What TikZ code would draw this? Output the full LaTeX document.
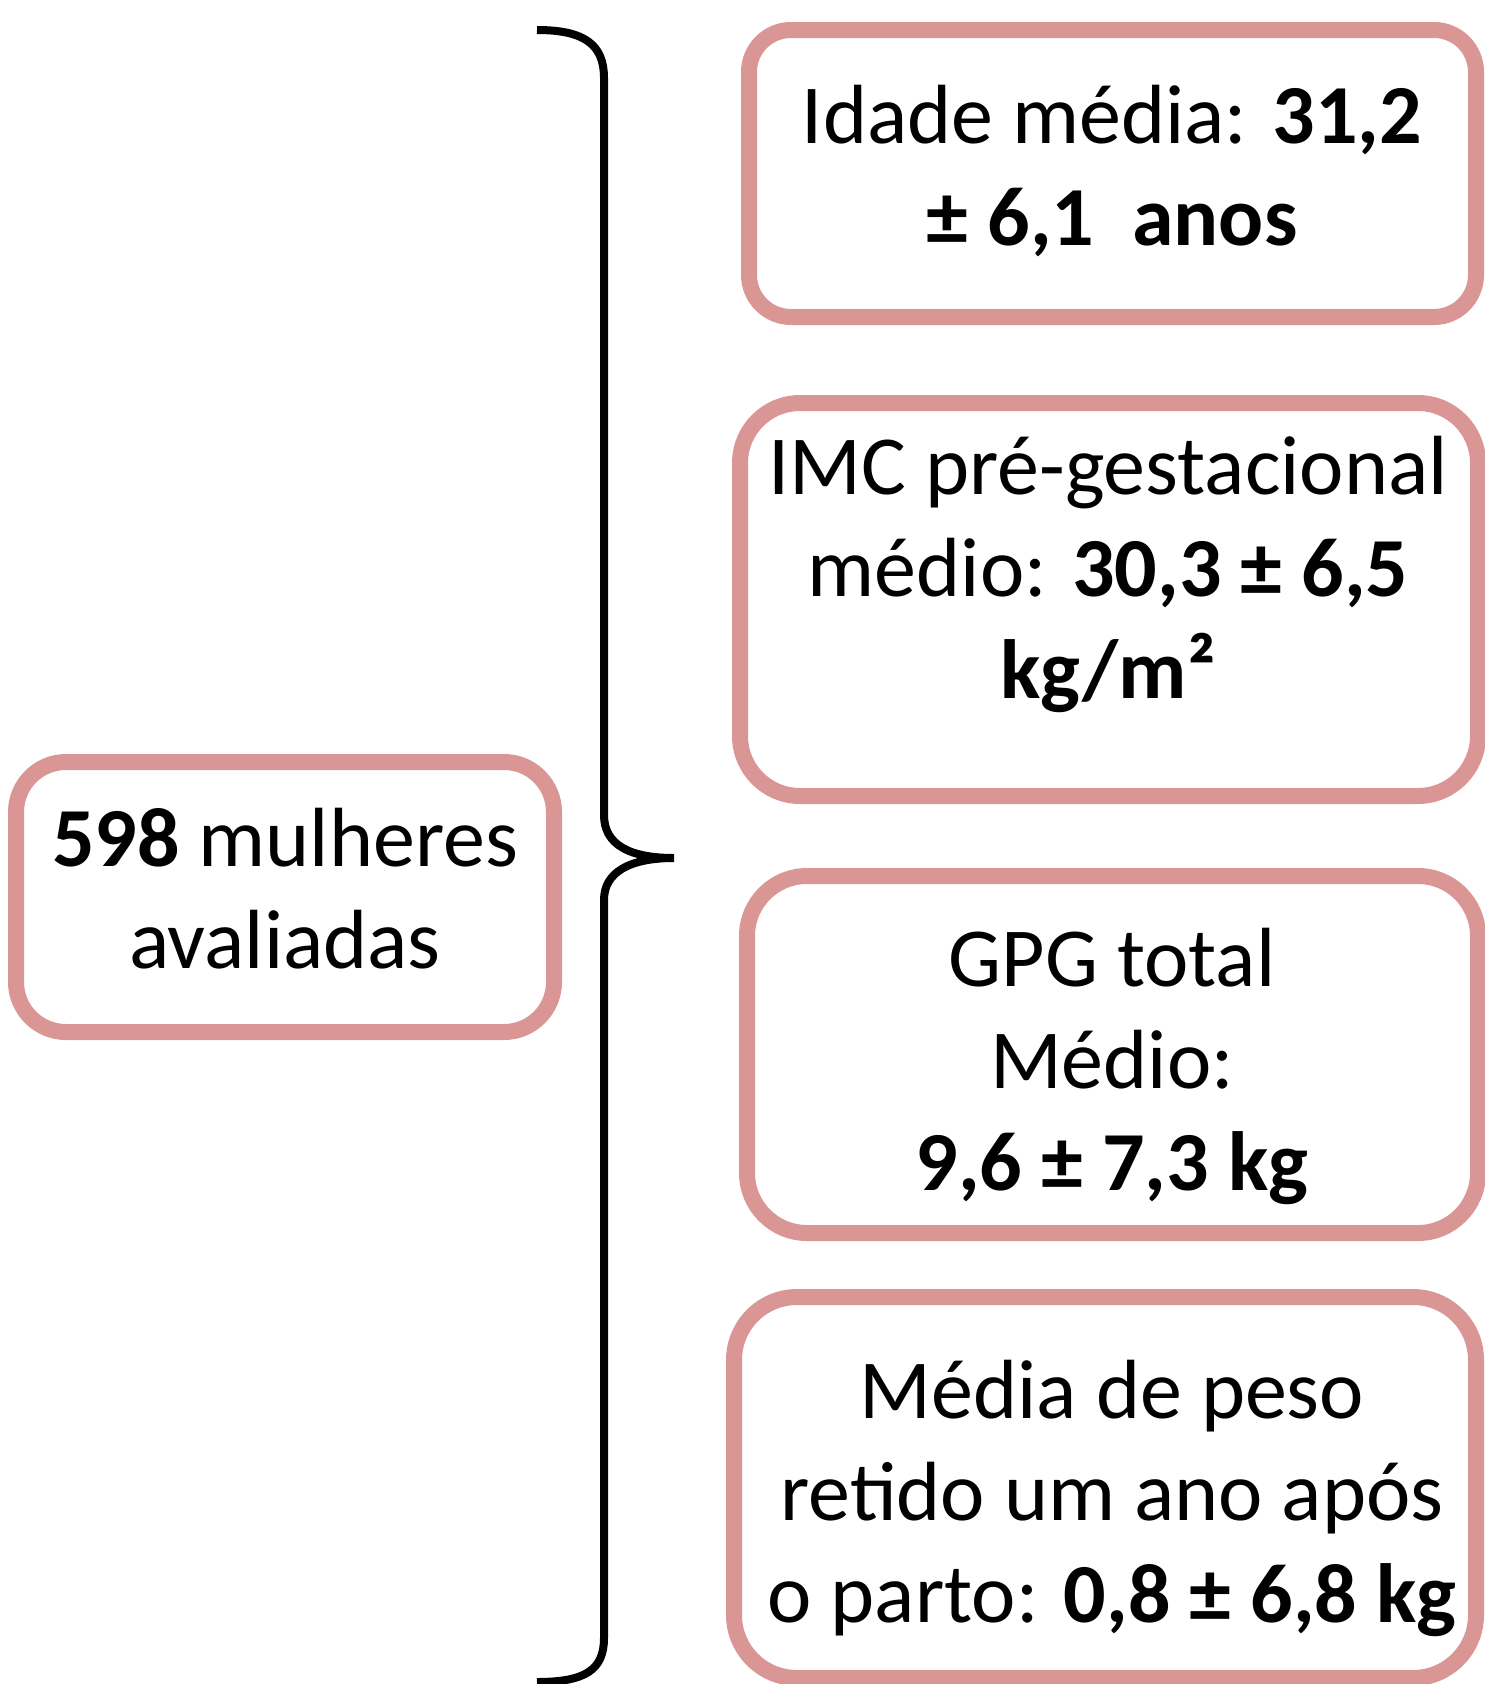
\documentclass[tikz,border=0pt]{standalone}
\usepackage{fontspec}
\setmainfont{Carlito}
\definecolor{boxpink}{RGB}{217,150,148}
\begin{document}
\begin{tikzpicture}[x=1pt,y=-1pt,
  box/.style={draw=boxpink, fill=white, line width=16pt, rounded corners=#1, inner sep=0pt},
  box/.default=60pt,
  txt/.style={anchor=base, align=center, inner sep=0pt, font=\fontsize{84}{102}\selectfont},
  brace/.style={draw=black, line width=8pt}]
\useasboundingbox (0,0) rectangle (1484,1684);
% boxes
\node[box=50pt, minimum width=538pt, minimum height=270pt] (b0) at (285,897) {};
\node[box=42pt, minimum width=727pt, minimum height=287pt] (b1) at (1112.5,173.5) {};
\node[box, minimum width=738pt, minimum height=393pt] (b2) at (1109,599.5) {};
\node[box, minimum width=731pt, minimum height=357pt] (b3) at (1112.5,1054.5) {};
\node[box=63pt, minimum width=742pt, minimum height=381pt] (b4) at (1105,1487.5) {};
% texts (anchored at the baseline of the last line)
\node[txt] (t0) at (285,968) {\textbf{598} mulheres\\avaliadas};
\node[txt] (t1) at (1112,245) {Idade média: \textbf{31,2}\\\textbf{± 6,1~~anos}};
\node[txt] (t2) at (1108,698) {IMC pré-gestacional\\médio: \textbf{30,3 ± 6,5}\\\textbf{kg/m²}};
\node[txt] (t3) at (1112,1190) {GPG total\\Médio:\\\textbf{9,6 ± 7,3 kg}};
\node[txt] (t4) at (1112,1622) {Média de peso\\retido um ano após\\o parto: \textbf{0,8 ± 6,8 kg}};
% brace
\coordinate (btop) at (537,30);
\coordinate (btip) at (674,858);
\coordinate (bbot) at (537,1682);
\draw[brace] (btop) .. controls (585,30) and (604,45) .. (604,78) -- (604,815)
  .. controls (604,845) and (630,858) .. (btip)
  .. controls (630,858) and (604,872) .. (604,900) -- (604,1638)
  .. controls (604,1670) and (585,1682) .. (bbot);
\end{tikzpicture}
\end{document}
